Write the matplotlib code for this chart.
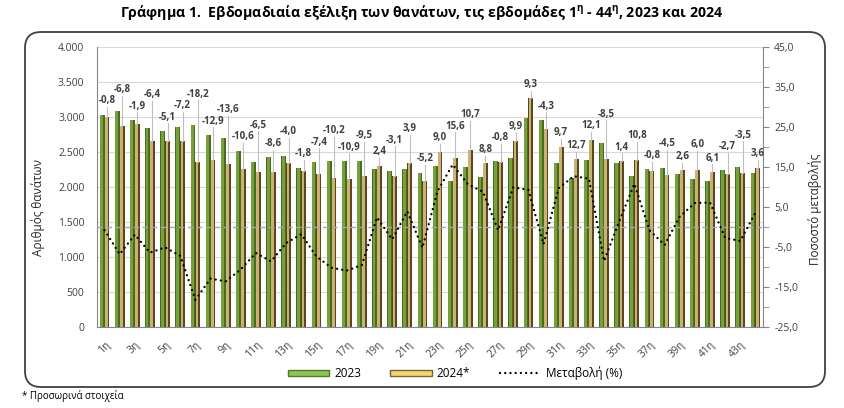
import matplotlib
matplotlib.use("Agg")
import numpy as np
import matplotlib.pyplot as plt
from matplotlib import font_manager
from matplotlib.font_manager import FontProperties
from matplotlib.patches import FancyBboxPatch, Patch
from matplotlib.lines import Line2D
from matplotlib.ticker import FuncFormatter, MultipleLocator


# weekly deaths, 2023 and 2024 (2024 provisional)
weeks = [f"{n}η" for n in range(1, 45)]
deaths_2023 = [3030, 3086, 2957, 2838, 2800, 2862, 2886, 2743, 2695, 2519,
               2362, 2424, 2443, 2276, 2362, 2371, 2371, 2376, 2252, 2233,
               2252, 2205, 2300, 2086, 2281, 2148, 2371, 2419, 2990, 2957,
               2348, 2124, 2386, 2624, 2338, 2157, 2252, 2267, 2181, 2114,
               2086, 2243, 2281, 2195]
deaths_2024 = [3005, 2876, 2901, 2656, 2657, 2656, 2361, 2389, 2328, 2252,
               2208, 2216, 2345, 2235, 2187, 2129, 2113, 2150, 2306, 2164,
               2340, 2090, 2507, 2411, 2525, 2337, 2352, 2659, 3268, 2830,
               2576, 2394, 2675, 2401, 2371, 2390, 2234, 2165, 2238, 2241,
               2213, 2182, 2201, 2274]
change_pct = [-0.8, -6.8, -1.9, -6.4, -5.1, -7.2, -18.2, -12.9, -13.6, -10.6,
              -6.5, -8.6, -4.0, -1.8, -7.4, -10.2, -10.9, -9.5, 2.4, -3.1,
              3.9, -5.2, 9.0, 15.6, 10.7, 8.8, -0.8, 9.9, 9.3, -4.3,
              9.7, 12.7, 12.1, -8.5, 1.4, 10.8, -0.8, -4.5, 2.6, 6.0,
              6.1, -2.7, -3.5, 3.6]


def pick_font(names):
    # first installed family from the list
    for name in names:
        try:
            font_manager.findfont(FontProperties(family=name),
                                  fallback_to_default=False)
            return name
        except ValueError:
            continue
    return "DejaVu Sans"


base_font = pick_font(["Liberation Sans Narrow", "Open Sans", "Noto Sans"])
plt.rcParams["font.family"] = [base_font, "DejaVu Sans"]

W, H = 844, 408
fig = plt.figure(figsize=(W / 100, H / 100), dpi=100)


def px(x, y):
    return x / W, 1 - y / H


# outer rounded frame
frame = FancyBboxPatch((0.25, 0.21), 8.0, 3.55,
                       boxstyle="round,pad=0,rounding_size=0.16",
                       transform=fig.dpi_scale_trans, fill=False,
                       edgecolor="#404040", linewidth=1.3)
fig.patches.append(frame)

ax = fig.add_axes([97 / W, 1 - 327 / H, (763 - 97) / W, (327 - 47) / H])
ax2 = ax.twinx()

x = np.arange(len(weeks))
w = 0.32
x23 = x - w / 2
x24 = x + w / 2

# bars with a two-tone "cylinder" look
ax.bar(x23, deaths_2023, w, color="#4b6a22", zorder=2)
ax.bar(x23 - w * 0.12, deaths_2023, w * 0.6, color="#76a03a", zorder=2.1)
ax.bar(x24, deaths_2024, w, color="#5a481c", zorder=2)
ax.bar(x24 - w * 0.14, deaths_2024, w * 0.55, color="#c9b273", zorder=2.1)

ax.set_xlim(-0.5, len(weeks) - 0.5)
ax.set_ylim(0, 4000)
ax.set_yticks(np.arange(0, 4001, 500))
ax.yaxis.set_major_formatter(
    FuncFormatter(lambda v, p: f"{int(v):,}".replace(",", ".")))
ax.yaxis.grid(True, color="#d9d9d9", linewidth=0.8)
ax.set_axisbelow(True)
ax.tick_params(axis="y", length=0, pad=9, labelsize=7.5, colors="#404040")
ax.set_xticks(x[::2])
ax.set_xticklabels(weeks[::2], rotation=45, ha="right", va="top",
                   rotation_mode="anchor")
ax.tick_params(axis="x", length=0, pad=9, labelsize=7.5, colors="#404040")
for s in ("top", "right"):
    ax.spines[s].set_visible(False)
for s in ("left", "bottom"):
    ax.spines[s].set_color("#868686")
    ax.spines[s].set_linewidth(0.8)

# percentage change on the right axis
ax2.set_ylim(-25, 45)
ax2.set_yticks(np.arange(-25, 46, 10))
ax2.yaxis.set_minor_locator(MultipleLocator(5))
ax2.yaxis.set_major_formatter(
    FuncFormatter(lambda v, p: f"{v:.1f}".replace(".", ",")))
ax2.tick_params(axis="y", which="both", direction="out", length=4,
                color="#868686", pad=4, labelsize=7.5, labelcolor="#404040")
for s in ("top", "left", "bottom"):
    ax2.spines[s].set_visible(False)
ax2.spines["right"].set_color("#868686")
ax2.spines["right"].set_linewidth(0.8)

ax2.axhline(0, color="#a6a6a6", linewidth=1.0, linestyle=(0, (4, 2.5)),
            zorder=3)
ax2.plot(x, change_pct, color="black", linewidth=1.7,
         linestyle=(0, (0.01, 2.2)), dash_capstyle="round", zorder=4)

# data labels with leader lines, staggered so neighbours don't collide
gap = 165
label_y = []
for i in range(len(weeks)):
    y = max(deaths_2023[i], deaths_2024[i]) + 110
    if label_y and abs(y - label_y[-1]) < gap:
        y = max(y, label_y[-1] + gap)
    label_y.append(y)

for i, pct in enumerate(change_pct):
    ax2.plot([x24[i], x24[i]], [deaths_2024[i], label_y[i]],
             transform=ax.transData, color="#bfbfbf", linewidth=0.8,
             zorder=3.5)
    ax2.text(x24[i], label_y[i] + 10, f"{pct:.1f}".replace(".", ","),
             transform=ax.transData, ha="center", va="bottom",
             fontsize=7, fontweight="bold", color="#404040", zorder=5)

# texts around the plot
title = ("Γράφημα 1.  Εβδομαδιαία εξέλιξη των θανάτων, τις εβδομάδες "
         "1$^{\\mathregular{η}}$ - 44$^{\\mathregular{η}}$, 2023 και 2024")
fig.text(*px(422, 13), title, ha="center", va="center", fontsize=10.2,
         fontweight="bold", color="black")
fig.text(*px(38, 207), "Αριθμός θανάτων", rotation=90, ha="center",
         va="center", fontsize=8.5, color="#262626")
fig.text(*px(815, 209), "Ποσοστό μεταβολής", rotation=90, ha="center",
         va="center", fontsize=8.5, color="#262626")
fig.text(*px(22, 396), "* Προσωρινά στοιχεία", ha="left", va="center",
         fontsize=7, color="black")

handles = [
    Patch(facecolor="#8fc454", edgecolor="#4f7a28"),
    Patch(facecolor="#f2d77a", edgecolor="#7a6428"),
    Line2D([], [], color="black", linewidth=1.7,
           linestyle=(0, (0.01, 2.2)), dash_capstyle="round"),
]
fig.legend(handles, ["2023", "2024*", "Μεταβολή (%)"],
           loc="center", bbox_to_anchor=px(455, 373), ncol=3,
           frameon=False, fontsize=8.5, handlelength=3.5, handleheight=0.45,
           columnspacing=2.5, handletextpad=0.4)

fig.savefig("out.png", dpi=100)
